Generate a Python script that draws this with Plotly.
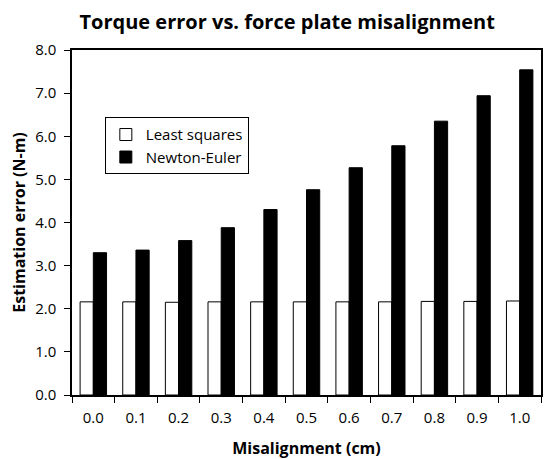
import plotly.graph_objects as go

categories = ["0.0", "0.1", "0.2", "0.3", "0.4", "0.5", "0.6", "0.7", "0.8", "0.9", "1.0"]
least_squares = [2.16, 2.16, 2.15, 2.16, 2.16, 2.16, 2.16, 2.16, 2.17, 2.17, 2.18]
newton_euler = [3.30, 3.36, 3.58, 3.88, 4.30, 4.76, 5.27, 5.78, 6.35, 6.94, 7.54]

font_family = "'Open Sans', 'Noto Sans', sans-serif"

fig = go.Figure()
fig.add_trace(go.Bar(
    x=categories, y=least_squares, name="Least squares",
    marker=dict(color="white", line=dict(color="black", width=1)),
))
fig.add_trace(go.Bar(
    x=categories, y=newton_euler, name="Newton-Euler",
    marker=dict(color="black", line=dict(color="black", width=1)),
))

fig.update_layout(
    width=544, height=459,
    paper_bgcolor="white", plot_bgcolor="white",
    barmode="group", bargap=0.38, bargroupgap=0.0,
    margin=dict(l=72, r=3, t=50, b=64),
    font=dict(family=font_family, color="black", size=15),
    title=dict(text="<b>Torque error vs. force plate misalignment</b>",
               x=0.528, xanchor="center", y=0.952, yanchor="middle",
               font=dict(size=20, family=font_family, color="black")),
    legend=dict(x=0.07, y=0.805, xanchor="left", yanchor="top",
                bordercolor="black", borderwidth=1, bgcolor="white",
                font=dict(size=15, family=font_family, color="black"),
                tracegroupgap=0, itemwidth=30),
    showlegend=True,
)
fig.update_xaxes(
    showline=True, linecolor="black", linewidth=1.5, mirror=True,
    ticks="outside", ticklen=6, tickcolor="black", tickson="boundaries",
    showgrid=False, automargin=False, ticklabelstandoff=8,
    tickfont=dict(size=15),
    title=dict(text="<b>Misalignment (cm)</b>", font=dict(size=16), standoff=18),
)
fig.update_yaxes(
    range=[0, 8], dtick=1, tickformat=".1f",
    showline=True, linecolor="black", linewidth=1.5, mirror=True,
    ticks="outside", ticklen=6, tickcolor="black",
    showgrid=False, zeroline=False, automargin=False, ticklabelstandoff=5,
    tickfont=dict(size=15),
    title=dict(text="<b>Estimation error (N-m)</b>", font=dict(size=16), standoff=6),
)

fig.write_html("out.html", config={"displayModeBar": False},
               post_script="document.body.style.margin='0px';")
